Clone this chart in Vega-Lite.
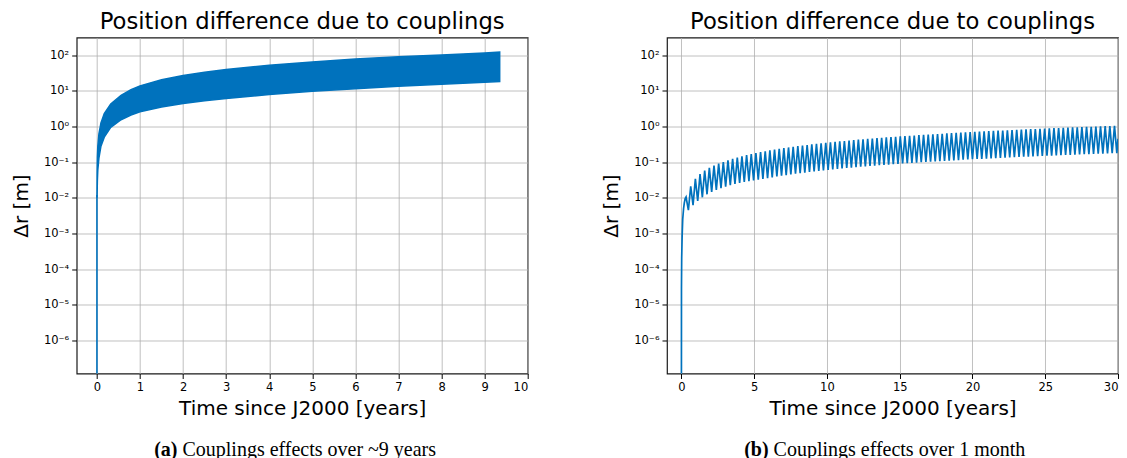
{
  "$schema": "https://vega.github.io/schema/vega-lite/v6.json",
  "padding": {"left": 10.7, "top": 9.5, "right": 0, "bottom": 0},
  "background": "white",
  "config": {
    "font": "DejaVu Sans",
    "view": {"stroke": "#1a1a1a", "strokeWidth": 1.2},
    "axis": {"domain": false, "grid": true, "gridColor": "#b0b0b0", "gridWidth": 0.8, "tickColor": "#000", "tickSize": 5, "tickWidth": 1, "labelFontSize": 11.5, "labelColor": "#000", "titleFontSize": 20, "titleFontWeight": "normal", "titleColor": "#000", "labelPadding": 3},
    "title": {"fontSize": 22.7, "fontWeight": "normal", "color": "#000", "offset": 4}
  },
  "columns": 2,
  "bounds": "flush",
  "spacing": {"column": 139.3, "row": 66.2},
  "concat": [
    {
      "width": 451,
      "height": 336,
      "title": {"text": "Position difference due to couplings", "anchor": "middle", "frame": "group"},
      "layer": [
        {
          "data": {"values": [
            {"t": 0.0, "lo": 0.01, "hi": 0.012},
            {"t": 0.004, "lo": 0.012, "hi": 0.05},
            {"t": 0.01, "lo": 0.03, "hi": 0.14},
            {"t": 0.02, "lo": 0.06, "hi": 0.28},
            {"t": 0.046, "lo": 0.13, "hi": 0.62},
            {"t": 0.093, "lo": 0.28, "hi": 1.25},
            {"t": 0.17, "lo": 0.5, "hi": 2.3},
            {"t": 0.32, "lo": 0.95, "hi": 4.3},
            {"t": 0.56, "lo": 1.55, "hi": 7.5},
            {"t": 0.79, "lo": 2.1, "hi": 10.8},
            {"t": 1.0, "lo": 2.6, "hi": 13.8},
            {"t": 1.5, "lo": 3.5, "hi": 20.5},
            {"t": 2.0, "lo": 4.4, "hi": 27},
            {"t": 2.5, "lo": 5.3, "hi": 33.5},
            {"t": 3.0, "lo": 6.1, "hi": 40},
            {"t": 4.0, "lo": 7.9, "hi": 52},
            {"t": 5.0, "lo": 9.7, "hi": 65},
            {"t": 6.0, "lo": 11.5, "hi": 78},
            {"t": 7.0, "lo": 13.4, "hi": 90},
            {"t": 8.0, "lo": 15.3, "hi": 102},
            {"t": 9.0, "lo": 17.4, "hi": 115},
            {"t": 9.35, "lo": 18.3, "hi": 122}
          ]},
          "mark": {"type": "area", "color": "#0072BD", "stroke": "#0072BD", "strokeWidth": 1.5, "clip": true},
          "encoding": {
            "x": {"field": "t", "type": "quantitative", "scale": {"domain": [-0.47, 10], "nice": false, "zero": false}, "axis": {"title": "Time since J2000 [years]", "values": [0,1,2,3,4,5,6,7,8,9,10], "titlePadding": 6}},
            "y": {"field": "lo", "type": "quantitative", "scale": {"type": "log", "domain": [1.17e-7, 314], "nice": false}, "axis": {"title": "Δr [m]", "values": [1e-6,1e-5,1e-4,1e-3,1e-2,1e-1,1,10,100], "titlePadding": 12, "labelExpr": "datum.value > 50 ? '10²' : datum.value > 5 ? '10¹' : datum.value > 0.5 ? '10⁰' : datum.value > 0.05 ? '10⁻¹' : datum.value > 0.005 ? '10⁻²' : datum.value > 0.0005 ? '10⁻³' : datum.value > 0.00005 ? '10⁻⁴' : datum.value > 0.000005 ? '10⁻⁵' : '10⁻⁶'"}},
            "y2": {"field": "hi"}
          }
        },
        {
          "data": {"values": [
            {"t": 0.0, "lo": 1e-9},
            {"t": 0.0, "lo": 0.012}
          ]},
          "mark": {"type": "line", "color": "#0072BD", "strokeWidth": 1.6, "clip": true},
          "encoding": {
            "x": {"field": "t", "type": "quantitative"},
            "y": {"field": "lo", "type": "quantitative"}
          }
        }
      ]
    },
    {
      "width": 451,
      "height": 336,
      "title": {"text": "Position difference due to couplings", "anchor": "middle", "frame": "group"},
      "data": {"values": [
        {"t":0,"d":1e-9},{"t":0.005,"d":3e-5},{"t":0.02,"d":2e-4},{"t":0.05,"d":8e-4},{"t":0.09,"d":0.0025},{"t":0.15,"d":0.005},{"t":0.2,"d":0.0072},{"t":0.26,"d":0.0095},
        {"t":0.32,"d":0.0105},{"t":0.48,"d":0.0045},{"t":0.64,"d":0.021},{"t":0.80,"d":0.0062},{"t":0.96,"d":0.034},{"t":1.12,"d":0.0082},{"t":1.28,"d":0.046},{"t":1.44,"d":0.0103},
        {"t":1.60,"d":0.058},{"t":1.76,"d":0.0125},{"t":1.92,"d":0.069},{"t":2.08,"d":0.0146},{"t":2.24,"d":0.080},{"t":2.40,"d":0.0166},{"t":2.56,"d":0.091},{"t":2.72,"d":0.0186},
        {"t":2.88,"d":0.101},{"t":3.04,"d":0.0206},{"t":3.20,"d":0.112},{"t":3.36,"d":0.0225},{"t":3.52,"d":0.123},{"t":3.68,"d":0.0244},{"t":3.84,"d":0.134},{"t":4.00,"d":0.0260},
        {"t":4.16,"d":0.146},{"t":4.32,"d":0.0278},{"t":4.48,"d":0.157},{"t":4.64,"d":0.0294},{"t":4.80,"d":0.168},{"t":4.96,"d":0.0308},{"t":5.12,"d":0.179},{"t":5.28,"d":0.0322},
        {"t":5.44,"d":0.190},{"t":5.60,"d":0.0340},{"t":5.76,"d":0.202},{"t":5.92,"d":0.0355},{"t":6.08,"d":0.213},{"t":6.24,"d":0.0374},{"t":6.40,"d":0.224},{"t":6.56,"d":0.0394},
        {"t":6.72,"d":0.235},{"t":6.88,"d":0.0413},{"t":7.04,"d":0.246},{"t":7.20,"d":0.0432},{"t":7.36,"d":0.258},{"t":7.52,"d":0.0451},{"t":7.68,"d":0.269},{"t":7.84,"d":0.0470},
        {"t":8.00,"d":0.280},{"t":8.16,"d":0.0490},{"t":8.32,"d":0.291},{"t":8.48,"d":0.0509},{"t":8.64,"d":0.302},{"t":8.80,"d":0.0528},{"t":8.96,"d":0.314},{"t":9.12,"d":0.0547},
        {"t":9.28,"d":0.325},{"t":9.44,"d":0.0566},{"t":9.60,"d":0.336},{"t":9.76,"d":0.0586},{"t":9.92,"d":0.347},{"t":10.08,"d":0.0605},{"t":10.24,"d":0.358},{"t":10.40,"d":0.0624},
        {"t":10.56,"d":0.370},{"t":10.72,"d":0.0643},{"t":10.88,"d":0.381},{"t":11.04,"d":0.0662},{"t":11.20,"d":0.392},{"t":11.36,"d":0.0682},{"t":11.52,"d":0.403},{"t":11.68,"d":0.0701},
        {"t":11.84,"d":0.414},{"t":12.00,"d":0.0720},{"t":12.16,"d":0.426},{"t":12.32,"d":0.0739},{"t":12.48,"d":0.437},{"t":12.64,"d":0.0758},{"t":12.80,"d":0.448},{"t":12.96,"d":0.0778},
        {"t":13.12,"d":0.459},{"t":13.28,"d":0.0797},{"t":13.44,"d":0.470},{"t":13.60,"d":0.0816},{"t":13.76,"d":0.482},{"t":13.92,"d":0.0835},{"t":14.08,"d":0.493},{"t":14.24,"d":0.0854},
        {"t":14.40,"d":0.504},{"t":14.56,"d":0.0874},{"t":14.72,"d":0.515},{"t":14.88,"d":0.0893},{"t":15.04,"d":0.526},{"t":15.20,"d":0.0912},{"t":15.36,"d":0.538},{"t":15.52,"d":0.0931},
        {"t":15.68,"d":0.549},{"t":15.84,"d":0.0950},{"t":16.00,"d":0.560},{"t":16.16,"d":0.0970},{"t":16.32,"d":0.571},{"t":16.48,"d":0.0989},{"t":16.64,"d":0.582},{"t":16.80,"d":0.1008},
        {"t":16.96,"d":0.594},{"t":17.12,"d":0.1027},{"t":17.28,"d":0.605},{"t":17.44,"d":0.1046},{"t":17.60,"d":0.616},{"t":17.76,"d":0.1066},{"t":17.92,"d":0.627},{"t":18.08,"d":0.1085},
        {"t":18.24,"d":0.638},{"t":18.40,"d":0.1104},{"t":18.56,"d":0.650},{"t":18.72,"d":0.1123},{"t":18.88,"d":0.661},{"t":19.04,"d":0.1142},{"t":19.20,"d":0.672},{"t":19.36,"d":0.1162},
        {"t":19.52,"d":0.683},{"t":19.68,"d":0.1181},{"t":19.84,"d":0.694},{"t":20.00,"d":0.1200},{"t":20.16,"d":0.706},{"t":20.32,"d":0.1219},{"t":20.48,"d":0.717},{"t":20.64,"d":0.1238},
        {"t":20.80,"d":0.728},{"t":20.96,"d":0.1258},{"t":21.12,"d":0.739},{"t":21.28,"d":0.1277},{"t":21.44,"d":0.750},{"t":21.60,"d":0.1296},{"t":21.76,"d":0.762},{"t":21.92,"d":0.1315},
        {"t":22.08,"d":0.773},{"t":22.24,"d":0.1334},{"t":22.40,"d":0.784},{"t":22.56,"d":0.1354},{"t":22.72,"d":0.795},{"t":22.88,"d":0.1373},{"t":23.04,"d":0.806},{"t":23.20,"d":0.1392},
        {"t":23.36,"d":0.818},{"t":23.52,"d":0.1411},{"t":23.68,"d":0.829},{"t":23.84,"d":0.1430},{"t":24.00,"d":0.840},{"t":24.16,"d":0.1450},{"t":24.32,"d":0.851},{"t":24.48,"d":0.1469},
        {"t":24.64,"d":0.862},{"t":24.80,"d":0.1488},{"t":24.96,"d":0.874},{"t":25.12,"d":0.1507},{"t":25.28,"d":0.885},{"t":25.44,"d":0.1526},{"t":25.60,"d":0.896},{"t":25.76,"d":0.1546},
        {"t":25.92,"d":0.907},{"t":26.08,"d":0.1565},{"t":26.24,"d":0.918},{"t":26.40,"d":0.1584},{"t":26.56,"d":0.930},{"t":26.72,"d":0.1603},{"t":26.88,"d":0.941},{"t":27.04,"d":0.1622},
        {"t":27.20,"d":0.952},{"t":27.36,"d":0.1642},{"t":27.52,"d":0.963},{"t":27.68,"d":0.1661},{"t":27.84,"d":0.974},{"t":28.00,"d":0.1680},{"t":28.16,"d":0.986},{"t":28.32,"d":0.1699},
        {"t":28.48,"d":0.997},{"t":28.64,"d":0.1718},{"t":28.80,"d":1.008},{"t":28.96,"d":0.1738},{"t":29.12,"d":1.019},{"t":29.28,"d":0.1757},{"t":29.44,"d":1.030},{"t":29.60,"d":0.1776},
        {"t":29.76,"d":1.042},{"t":29.92,"d":0.1795},{"t":30.00,"d":0.45}
      ]},
      "mark": {"type": "line", "color": "#0072BD", "strokeWidth": 1.7, "clip": true},
      "encoding": {
        "x": {"field": "t", "type": "quantitative", "scale": {"domain": [-0.99, 30], "nice": false, "zero": false}, "axis": {"title": "Time since J2000 [years]", "values": [0,5,10,15,20,25,30], "titlePadding": 6}},
        "y": {"field": "d", "type": "quantitative", "scale": {"type": "log", "domain": [1.17e-7, 314], "nice": false}, "axis": {"title": "Δr [m]", "values": [1e-6,1e-5,1e-4,1e-3,1e-2,1e-1,1,10,100], "titlePadding": 12, "labelExpr": "datum.value > 50 ? '10²' : datum.value > 5 ? '10¹' : datum.value > 0.5 ? '10⁰' : datum.value > 0.05 ? '10⁻¹' : datum.value > 0.005 ? '10⁻²' : datum.value > 0.0005 ? '10⁻³' : datum.value > 0.00005 ? '10⁻⁴' : datum.value > 0.000005 ? '10⁻⁵' : '10⁻⁶'"}}
      }
    },
    {
      "width": 451,
      "height": 20,
      "view": {"stroke": null},
      "data": {"values": [{"a": "(a)", "b": "Couplings effects over ~9 years"}]},
      "layer": [
        {"mark": {"type": "text", "font": "Liberation Serif", "fontSize": 20, "fontWeight": "bold", "align": "right", "dx": -124.7, "color": "#000"}, "encoding": {"text": {"field": "a"}}},
        {"mark": {"type": "text", "font": "Liberation Serif", "fontSize": 20, "fontWeight": "normal", "align": "left", "dx": -119.7, "color": "#000"}, "encoding": {"text": {"field": "b"}}}
      ]
    },
    {
      "width": 451,
      "height": 20,
      "view": {"stroke": null},
      "data": {"values": [{"a": "(b)", "b": "Couplings effects over 1 month"}]},
      "layer": [
        {"mark": {"type": "text", "font": "Liberation Serif", "fontSize": 20, "fontWeight": "bold", "align": "right", "dx": -123.9, "color": "#000"}, "encoding": {"text": {"field": "a"}}},
        {"mark": {"type": "text", "font": "Liberation Serif", "fontSize": 20, "fontWeight": "normal", "align": "left", "dx": -118.9, "color": "#000"}, "encoding": {"text": {"field": "b"}}}
      ]
    }
  ]
}
